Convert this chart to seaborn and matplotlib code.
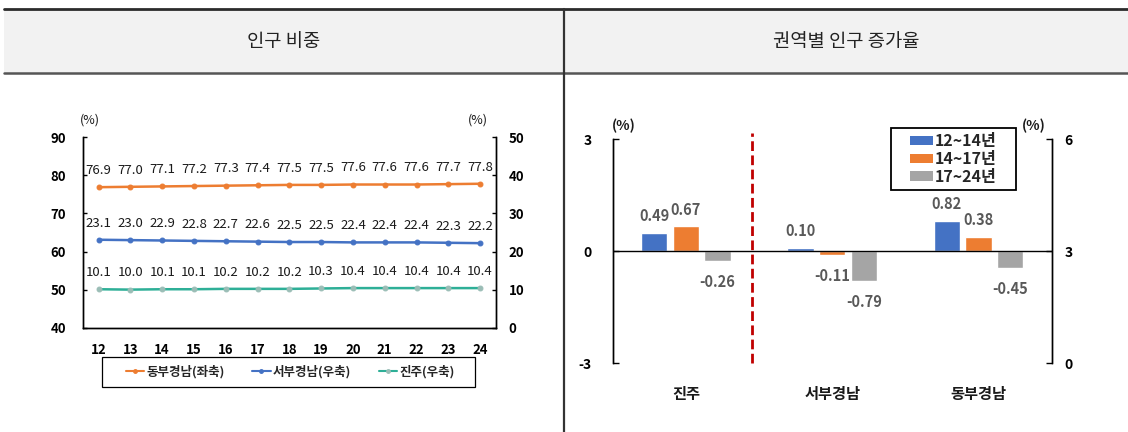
import numpy as np
import pandas as pd
import matplotlib
matplotlib.use("Agg")
import matplotlib.pyplot as plt
import seaborn as sns
from matplotlib.lines import Line2D
from matplotlib.patches import Rectangle, Patch

# ---- population share (%), by year ----
years = [12, 13, 14, 15, 16, 17, 18, 19, 20, 21, 22, 23, 24]
east_share = [76.9, 77.0, 77.1, 77.2, 77.3, 77.4, 77.5, 77.5, 77.6, 77.6, 77.6, 77.7, 77.8]
west_share = [23.1, 23.0, 22.9, 22.8, 22.7, 22.6, 22.5, 22.5, 22.4, 22.4, 22.4, 22.3, 22.2]
jinju_share = [10.1, 10.0, 10.1, 10.1, 10.2, 10.2, 10.2, 10.3, 10.4, 10.4, 10.4, 10.4, 10.4]
share_names = ["동부경남(좌축)", "서부경남(우축)", "진주(우축)"]

# ---- population growth rate (%), by region and period ----
regions = ["진주", "서부경남", "동부경남"]
periods = ["12~14년", "14~17년", "17~24년"]
growth_12_14 = [0.49, 0.10, 0.82]
growth_14_17 = [0.67, -0.11, 0.38]
growth_17_24 = [-0.26, -0.79, -0.45]

sns.set_theme(style="white")
plt.rcParams["font.family"] = ["Noto Sans CJK KR", "DejaVu Sans"]
plt.rcParams["axes.unicode_minus"] = False

ORANGE = "#ED7D31"
BLUE = "#4472C4"
GRAY = "#A5A5A5"
TEAL = "#2EAF97"
TEAL_MK = "#9BBDB6"
TXT = "#1a1a1a"

fig = plt.figure(figsize=(11.28, 4.32), dpi=100)
W, H = 1128.0, 432.0


def fx(px):
    return px / W


def fy(py):
    return 1 - py / H


def fig_box(x0, y0, x1, y1, lw):
    fig.patches.append(Rectangle((fx(x0), fy(y1)), fx(x1) - fx(x0), fy(y0) - fy(y1),
                                 transform=fig.transFigure, facecolor="white",
                                 edgecolor="black", lw=lw, zorder=5))


# ---- header band and frame lines ----
fig.patches.append(Rectangle((fx(4), fy(72.5)), 1 - fx(4), fy(9) - fy(72.5),
                             transform=fig.transFigure, facecolor="#F2F2F2",
                             edgecolor="none", zorder=0))
fig.lines.append(Line2D([fx(4), 1], [fy(8.5), fy(8.5)], transform=fig.transFigure,
                        color="#2b2b2b", lw=2.0))
fig.lines.append(Line2D([fx(4), 1], [fy(72.5), fy(72.5)], transform=fig.transFigure,
                        color="#555555", lw=1.8))
fig.lines.append(Line2D([fx(563.8), fx(563.8)], [fy(8.5), 0], transform=fig.transFigure,
                        color="#333333", lw=1.6))
fig.text(fx(284), fy(41), "인구 비중", ha="center", va="center", fontsize=13.5,
         color="#222222")
fig.text(fx(846), fy(41), "권역별 인구 증가율", ha="center", va="center", fontsize=13.5,
         color="#222222")

# ================= left: population share =================
share_df = pd.DataFrame({
    "year": years * 3,
    "value": east_share + west_share + jinju_share,
    "series": np.repeat(share_names, len(years)),
})

axL = fig.add_axes([fx(82.7), fy(327.7), fx(496) - fx(82.7), fy(137.3) - fy(327.7)])
axR = axL.twinx()

line_styles = {
    share_names[0]: (axL, ORANGE, ORANGE),
    share_names[1]: (axR, BLUE, BLUE),
    share_names[2]: (axR, TEAL, TEAL_MK),
}
for name, (ax, col, mcol) in line_styles.items():
    sub = share_df[share_df["series"] == name]
    sns.lineplot(data=sub, x="year", y="value", ax=ax, color=col, lw=1.8,
                 marker="o", markersize=3.5, markerfacecolor=mcol,
                 markeredgecolor=mcol, legend=False)
    for xv, yv in zip(sub["year"], sub["value"]):
        ax.annotate(f"{yv:.1f}", (xv, yv), xytext=(0, 12), textcoords="offset points",
                    ha="center", va="center", fontsize=9.5, color=TXT)

axL.set_xlim(11.5, 24.5)
axL.set_ylim(40, 90)
axR.set_ylim(0, 50)
axL.set_yticks(range(40, 91, 10))
axR.set_yticks(range(0, 51, 10))
axL.set_xticks(years)
axL.set_xticklabels([str(y) for y in years])
for ax in (axL, axR):
    ax.set_xlabel("")
    ax.set_ylabel("")
    ax.spines["top"].set_visible(False)
    for s in ("left", "right", "bottom"):
        ax.spines[s].set_color("black")
        ax.spines[s].set_linewidth(1.0)
    ax.grid(False)
axL.tick_params(axis="y", direction="in", length=3, width=1, pad=12,
                labelsize=9.5, colors="black")
axR.tick_params(axis="y", direction="in", length=3, width=1, pad=9,
                labelsize=9.5, colors="black")
axL.tick_params(axis="x", length=0, pad=11, labelsize=9.5, colors="black")
for lab in axL.get_yticklabels() + axR.get_yticklabels() + axL.get_xticklabels():
    lab.set_fontweight("bold")
fig.text(fx(90), fy(120), "(%)", ha="center", va="center", fontsize=9, color=TXT)
fig.text(fx(478), fy(120), "(%)", ha="center", va="center", fontsize=9, color=TXT)

left_handles = [
    Line2D([], [], color=ORANGE, lw=1.5, marker="o", markersize=2.5),
    Line2D([], [], color=BLUE, lw=1.5, marker="o", markersize=2.5),
    Line2D([], [], color=TEAL, lw=1.5, marker="o", markersize=2.5,
           markerfacecolor=TEAL_MK, markeredgecolor=TEAL_MK),
]
fig_box(102, 357, 475, 387, 0.9)
legL = fig.legend(left_handles, share_names, loc="center", bbox_to_anchor=(fx(290), fy(372)),
                  ncol=3, frameon=False, handlelength=1.5, handletextpad=0.15,
                  columnspacing=2.2, borderpad=0.2,
                  prop={"weight": "bold", "size": 9})
legL.set_zorder(6)

# ================= right: growth rate =================
growth_df = pd.DataFrame({
    "region": regions * 3,
    "period": np.repeat(periods, len(regions)),
    "rate": growth_12_14 + growth_14_17 + growth_17_24,
})

axB = fig.add_axes([fx(612.7), fy(363.3), fx(1051.7) - fx(612.7), fy(139.3) - fy(363.3)])
sns.barplot(data=growth_df, x="region", y="rate", hue="period", order=regions,
            hue_order=periods, palette=[BLUE, ORANGE, GRAY], width=0.65, gap=0.17,
            saturation=1, ax=axB, legend=False)
axB.set_ylim(-3, 3)
axB.set_xlim(-0.5, 2.5)
axB.set_yticks([-3, 0, 3])
axB.set_xlabel("")
axB.set_ylabel("")
axB.axhline(0, color="black", lw=1.0, zorder=1)
axB.axvline(0.455, ymin=0, ymax=1.03, color="#C00000", lw=2, ls=(0, (3.5, 1.6)),
            clip_on=False)

for cont in axB.containers:
    for bar in cont:
        h = bar.get_height()
        xc = bar.get_x() + bar.get_width() / 2
        off = 12 if h >= 0 else -15
        axB.annotate(f"{h:.2f}", (xc, h), xytext=(0, off), textcoords="offset points",
                     ha="center", va="center", fontsize=10.5, fontweight="bold",
                     color="#595959")

axB2 = axB.twinx()
axB2.set_ylim(0, 6)
axB2.set_yticks([0, 3, 6])
for ax in (axB, axB2):
    ax.spines["top"].set_visible(False)
    ax.spines["bottom"].set_visible(False)
    for s in ("left", "right"):
        ax.spines[s].set_color("black")
        ax.spines[s].set_linewidth(1.0)
    ax.grid(False)
axB.tick_params(axis="y", direction="in", length=4, width=1, pad=15, labelsize=10,
                colors="black")
axB2.tick_params(axis="y", direction="in", length=4, width=1, pad=9, labelsize=10,
                 colors="black")
axB.tick_params(axis="x", length=0, pad=16, labelsize=11, colors=TXT)
for lab in axB.get_yticklabels() + axB2.get_yticklabels() + axB.get_xticklabels():
    lab.set_fontweight("bold")
fig.text(fx(624), fy(126), "(%)", ha="center", va="center", fontsize=10, fontweight="bold",
         color=TXT)
fig.text(fx(1034), fy(126), "(%)", ha="center", va="center", fontsize=10, fontweight="bold",
         color=TXT)

right_handles = [Patch(facecolor=c, edgecolor="none") for c in (BLUE, ORANGE, GRAY)]
fig_box(890.7, 127.7, 1015.7, 190, 1.3)
legR = fig.legend(right_handles, periods, loc="center", bbox_to_anchor=(fx(953.5), fy(159)),
                  ncol=1, frameon=False, handlelength=1.45, handleheight=0.55,
                  handletextpad=0.1, labelspacing=0.12, borderpad=0.1,
                  prop={"weight": "bold", "size": 11.5})
legR.set_zorder(6)

fig.savefig("out.png", dpi=100)
